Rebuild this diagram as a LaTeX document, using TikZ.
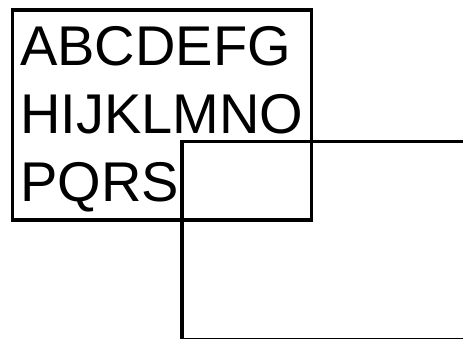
\documentclass[tikz,border=0pt]{standalone}
\usepackage{fontspec}
\setmainfont{Liberation Sans}
\usepackage{tikz}
\usepackage{xcolor}
\definecolor{ink}{HTML}{000000}
\tikzset{
  letterbox/.style={draw=ink,line width=3.5pt,rectangle,
                    minimum width=299pt,minimum height=210pt,
                    text width=284pt,inner xsep=7.5pt,inner ysep=0pt,
                    align=left,font=\fontsize{56pt}{68pt}\selectfont},
  overbox/.style={draw=ink,line width=3.5pt,rectangle,
                  minimum width=400pt,minimum height=197.5pt,
                  inner sep=0pt}
}
\begin{document}
\begin{tikzpicture}[x=1pt,y=-1pt]
  \useasboundingbox (0,0) rectangle (463,339);
  \clip (0,0) rectangle (463,339);
  \fill[white] (0,0) rectangle (463,339);
  \node[letterbox] (letters) at (162,115) {};
  \node[anchor=north west,inner sep=0pt,text width=284pt,align=left,
        font=\fontsize{56pt}{68pt}\selectfont] (letterlines) at (20,26)
        {ABCDEFG\\HIJKLMNO\\PQRS};
  \node[overbox,anchor=north west] (cover) at (180,140) {};
\end{tikzpicture}
\end{document}
